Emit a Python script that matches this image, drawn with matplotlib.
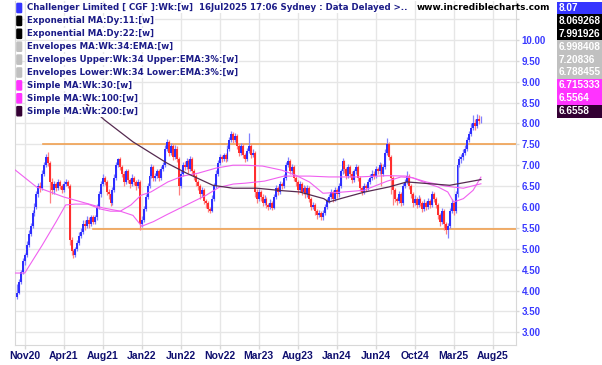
import numpy as np
import matplotlib
matplotlib.use("Agg")
import matplotlib.pyplot as plt
from matplotlib.patches import Rectangle, FancyBboxPatch

# weekly closes / highs / lows, Oct 2020 -> Jul 2025
closes = [
    3.95, 4.2, 4.45, 4.7, 4.85, 5.1, 5.35, 5.55, 5.85, 6.0, 6.3, 6.5, 6.45, 6.8, 7.0, 7.2, 7.05, 6.6, 6.4, 6.55,
    6.45, 6.6, 6.5, 6.4, 6.55, 6.6, 6.5, 5.2, 4.95, 4.85, 5.0, 5.15, 5.3, 5.4, 5.6, 5.55, 5.7, 5.6, 5.75, 5.65,
    5.75, 6.0, 6.3, 6.55, 6.7, 6.6, 6.35, 6.3, 6.1, 6.4, 6.7, 7.0, 7.15, 6.95, 6.8, 6.6, 6.85, 6.65, 6.55, 6.7,
    6.6, 6.5, 6.6, 5.6, 5.7, 5.95, 6.25, 6.5, 6.75, 6.95, 6.7, 6.75, 6.85, 6.7, 6.9, 7.0, 7.4, 7.55, 7.3, 7.45,
    7.2, 7.4, 7.15, 6.5, 6.8, 7.0, 6.95, 7.1, 6.9, 7.15, 6.85, 6.75, 6.6, 6.5, 6.3, 6.4, 6.15, 6.1, 5.95, 5.9,
    6.2, 6.5, 6.8, 7.05, 7.2, 7.15, 7.25, 7.15, 7.4, 7.6, 7.75, 7.6, 7.7, 7.45, 7.3, 7.45, 7.25, 7.15, 7.35, 7.45,
    7.25, 7.3, 6.35, 6.2, 6.35, 6.25, 6.1, 6.2, 6.05, 6.0, 6.1, 5.98, 6.25, 6.45, 6.35, 6.55, 6.5, 6.7, 7.0, 7.1,
    6.85, 6.95, 6.7, 6.6, 6.4, 6.55, 6.35, 6.45, 6.3, 6.45, 6.2, 6.0, 6.05, 5.9, 5.8, 5.85, 5.75, 5.85, 6.0, 6.15,
    6.25, 6.35, 6.2, 6.4, 6.3, 6.5, 6.85, 7.1, 6.9, 6.75, 6.95, 6.8, 6.65, 6.85, 6.95, 6.7, 6.45, 6.35, 6.5, 6.45,
    6.6, 6.7, 6.8, 6.75, 6.9, 6.85, 7.0, 6.8, 6.95, 7.3, 7.5, 7.2, 6.7, 6.4, 6.2, 6.15, 6.3, 6.1, 6.5, 6.6,
    6.75, 6.5, 6.3, 6.1, 6.2, 6.05, 6.2, 6.1, 5.95, 6.1, 6.0, 6.15, 6.05, 6.3, 6.2, 6.05, 5.8, 5.65, 5.9, 5.6,
    5.45, 5.55, 5.9, 6.1, 5.9, 6.3, 7.0, 7.15, 7.2, 7.3, 7.4, 7.6, 7.75, 7.9, 8.0, 7.95, 8.1, 8.05, 8.07,
]
highs = [
    4.15, 4.28, 4.5, 4.78, 4.9, 5.18, 5.45, 5.62, 5.92, 6.1, 6.38, 6.58, 6.6, 6.88, 7.08, 7.28, 7.32, 7.1, 6.7, 6.62,
    6.6, 6.68, 6.65, 6.55, 6.62, 6.68, 6.65, 6.55, 5.28, 5.0, 5.05, 5.22, 5.4, 5.5, 5.68, 5.7, 5.78, 5.75, 5.82, 5.8,
    5.8, 6.08, 6.38, 6.62, 6.78, 6.75, 6.65, 6.42, 6.35, 6.48, 6.78, 7.08, 7.18, 7.2, 7.0, 6.85, 6.92, 6.9, 6.7, 6.78,
    6.75, 6.65, 6.68, 6.65, 5.78, 6.02, 6.32, 6.58, 6.82, 7.02, 7.0, 6.82, 6.92, 6.9, 6.98, 7.08, 7.48, 7.63, 7.6, 7.52,
    7.5, 7.48, 7.45, 7.2, 6.88, 7.08, 7.1, 7.18, 7.15, 7.22, 7.2, 6.9, 6.8, 6.65, 6.55, 6.48, 6.45, 6.2, 6.15, 6.0,
    6.28, 6.58, 6.88, 7.12, 7.28, 7.25, 7.3, 7.3, 7.48, 7.68, 7.83, 7.8, 7.78, 7.75, 7.5, 7.52, 7.5, 7.3, 7.42, 7.77,
    7.5, 7.38, 7.35, 6.42, 6.42, 6.4, 6.3, 6.28, 6.25, 6.1, 6.18, 6.15, 6.32, 6.52, 6.5, 6.62, 6.6, 6.78, 7.08, 7.2,
    7.15, 7.02, 7.0, 6.75, 6.65, 6.62, 6.6, 6.52, 6.5, 6.52, 6.5, 6.25, 6.12, 6.1, 5.95, 5.92, 5.9, 5.92, 6.08, 6.22,
    6.32, 6.42, 6.4, 6.48, 6.45, 6.58, 6.92, 7.18, 7.12, 6.95, 7.02, 7.0, 6.85, 6.92, 7.02, 7.0, 6.75, 6.5, 6.58, 6.55,
    6.68, 6.78, 6.88, 6.85, 6.98, 6.95, 7.08, 7.05, 7.02, 7.38, 7.65, 7.55, 7.25, 6.75, 6.45, 6.25, 6.38, 6.35, 6.58, 6.68,
    6.85, 6.8, 6.55, 6.35, 6.28, 6.25, 6.28, 6.25, 6.15, 6.18, 6.15, 6.22, 6.2, 6.38, 6.35, 6.25, 6.1, 5.85, 5.98, 5.95,
    5.65, 5.62, 5.98, 6.18, 6.15, 6.38, 7.08, 7.22, 7.28, 7.38, 7.48, 7.68, 7.82, 8.0, 8.2, 8.1, 8.22, 8.2, 8.18,
]
lows = [
    3.79, 3.92, 4.15, 4.4, 4.62, 4.8, 5.05, 5.3, 5.5, 5.78, 5.95, 6.25, 6.35, 6.4, 6.75, 6.95, 6.98, 6.1, 6.3, 6.32,
    6.38, 6.4, 6.42, 6.33, 6.35, 6.5, 6.45, 5.1, 4.85, 4.77, 4.8, 4.95, 5.1, 5.25, 5.35, 5.45, 5.5, 5.5, 5.55, 5.6,
    5.6, 5.7, 5.95, 6.25, 6.5, 6.52, 6.28, 6.2, 6.02, 6.05, 6.35, 6.65, 6.95, 6.88, 6.72, 6.5, 6.55, 6.58, 6.45, 6.5,
    6.52, 6.4, 6.45, 5.46, 5.52, 5.65, 5.9, 6.2, 6.45, 6.7, 6.62, 6.62, 6.7, 6.62, 6.65, 6.85, 6.95, 7.35, 7.22, 7.25,
    7.12, 7.15, 7.08, 6.28, 6.45, 6.75, 6.88, 6.9, 6.82, 6.85, 6.78, 6.65, 6.5, 6.4, 6.2, 6.25, 6.08, 5.98, 5.88, 5.85,
    5.88, 6.15, 6.45, 6.75, 7.0, 7.08, 7.1, 7.08, 7.1, 7.35, 7.55, 7.52, 7.55, 7.38, 7.22, 7.25, 7.18, 7.08, 7.1, 7.3,
    7.18, 7.2, 6.25, 6.1, 6.15, 6.15, 6.02, 6.05, 5.98, 5.93, 5.95, 5.93, 5.95, 6.2, 6.28, 6.3, 6.42, 6.45, 6.65, 6.95,
    6.78, 6.8, 6.62, 6.5, 6.32, 6.35, 6.28, 6.3, 6.22, 6.25, 6.12, 5.92, 5.95, 5.82, 5.72, 5.75, 5.7, 5.69, 5.8, 5.95,
    6.1, 6.2, 6.12, 6.15, 6.22, 6.25, 6.45, 6.8, 6.82, 6.68, 6.7, 6.72, 6.58, 6.6, 6.8, 6.62, 6.38, 6.28, 6.3, 6.38,
    6.4, 6.55, 6.65, 6.68, 6.7, 6.78, 6.8, 6.5, 6.75, 6.9, 7.25, 7.12, 6.3, 6.05, 6.12, 6.05, 6.1, 6.02, 6.05, 6.45,
    6.55, 6.42, 6.22, 6.0, 6.05, 5.98, 6.0, 6.02, 5.88, 5.9, 5.92, 5.95, 5.98, 6.0, 6.12, 5.98, 5.72, 5.55, 5.6, 5.45,
    5.35, 5.25, 5.5, 5.85, 5.82, 5.85, 6.25, 6.95, 7.05, 7.12, 7.25, 7.35, 7.55, 7.7, 7.85, 7.85, 7.9, 7.98, 8.0,
]
first_open = 3.85

# moving averages (week index, price)
sma30_w = [-1, 4, 13, 20, 25, 30, 36.4, 43, 48, 53, 58.5, 63.6, 68.7, 77.4, 85, 93, 102, 110.8, 117, 126, 136,
           143, 150, 157, 165, 178, 190, 197, 203, 210, 216, 221, 224, 229, 234, 238]
sma30_p = [4.42, 4.42, 5.09, 5.64, 6.05, 6.07, 6.07, 5.95, 5.9, 5.9, 6.05, 6.28, 6.36, 6.6, 6.74, 6.81, 6.93, 7.0,
           7.0, 6.98, 6.88, 6.76, 6.6, 6.33, 6.35, 6.4, 6.62, 6.72, 6.7, 6.57, 6.48, 6.36, 6.12, 6.2, 6.4, 6.715]
sma100_w = [-1, 10, 24, 37, 44, 53, 59.5, 64, 70, 77, 87, 97, 103.6, 111, 117, 127, 137, 150, 160, 175, 190,
            200, 210, 220, 229, 238]
sma100_p = [6.89, 6.48, 6.24, 6.07, 5.98, 5.9, 5.8, 5.54, 5.65, 5.82, 6.05, 6.28, 6.47, 6.55, 6.57, 6.62, 6.74,
            6.74, 6.72, 6.72, 6.75, 6.74, 6.6, 6.5, 6.45, 6.556]
sma200_w = [30, 45, 59.5, 77, 87, 100.5, 110.8, 123, 136.4, 145, 157.4, 160, 166.7, 178.5, 190.8, 200, 222, 238]
sma200_p = [8.7, 8.08, 7.56, 7.05, 6.81, 6.52, 6.45, 6.45, 6.39, 6.36, 6.2, 6.12, 6.21, 6.36, 6.48, 6.6, 6.52, 6.656]

# drawn support / resistance lines (start week, price)
hlines = [(13.3, 7.51), (39, 5.48)]

tick_weeks = [4, 24, 44, 64, 84, 104, 124, 144, 164, 184, 204, 224, 244]
tick_labels = ['Nov20', 'Apr21', 'Aug21', 'Jan22', 'Jun22', 'Nov22', 'Mar23',
               'Aug23', 'Jan24', 'Jun24', 'Oct24', 'Mar25', 'Aug25']
price_ticks = [3.0, 3.5, 4.0, 4.5, 5.0, 5.5, 6.0, 6.5, 7.0, 7.5, 8.0, 8.5, 9.0, 9.5, 10.0, 10.5]

legend_items = [
    ('Challenger Limited [ CGF ]:Wk:[w]  16Jul2025 17:06 Sydney : Data Delayed >..', '#3535ff'),
    ('Exponential MA:Dy:11:[w]', '#000000'),
    ('Exponential MA:Dy:22:[w]', '#000000'),
    ('Envelopes MA:Wk:34:EMA:[w]', '#c0c0c0'),
    ('Envelopes Upper:Wk:34 Upper:EMA:3%:[w]', '#c0c0c0'),
    ('Envelopes Lower:Wk:34 Lower:EMA:3%:[w]', '#c0c0c0'),
    ('Simple MA:Wk:30:[w]', '#ff33ff'),
    ('Simple MA:Wk:100:[w]', '#ff33ff'),
    ('Simple MA:Wk:200:[w]', '#330033'),
]
last_values = ['8.07', '8.069268', '7.991926', '6.998408', '7.20836', '6.788455', '6.715333', '6.5564', '6.6558']

W, H = 602, 365
fig = plt.figure(figsize=(W / 100, H / 100), dpi=100)
ax = fig.add_axes([15 / W, (H - 344.5) / H, (516 - 15) / W, (344.5 - 1) / H])
ax.set_xlim(-1, 256)
ax.set_ylim(2.71, 10.93)

c = np.array(closes)
o = np.array([first_open] + closes[:-1])
hi = np.array(highs)
lo = np.array(lows)
wk = np.arange(len(c))
up = c >= o

ax.vlines(wk[up], lo[up], hi[up], color='#8080ff', lw=0.9, zorder=3)
ax.vlines(wk[~up], lo[~up], hi[~up], color='#ff8080', lw=0.9, zorder=3)
body = np.maximum(np.abs(c - o), 0.02)
ax.bar(wk, body, bottom=np.minimum(o, c), width=1.0,
       color=np.where(up, '#2e2eff', '#ff2e2e'), zorder=4)

ax.plot(sma30_w, sma30_p, color='#f060f0', lw=0.8, zorder=5)
ax.plot(sma100_w, sma100_p, color='#f060f0', lw=0.8, zorder=5)
ax.plot(sma200_w, sma200_p, color='#552a50', lw=0.9, zorder=5)
for start, level in hlines:
    ax.plot([start, 256], [level, level], color='#f0a050', lw=1.2, zorder=2)

ax.set_yticks(price_ticks)
ax.set_yticklabels(['%.2f' % p if p <= 10 else '' for p in price_ticks])
ax.yaxis.tick_right()
ax.set_xticks(tick_weeks)
ax.set_xticklabels(tick_labels)
ax.grid(True, color='#e6e6e6', lw=1)
ax.set_axisbelow(True)
ax.tick_params(axis='y', colors='#d8d8d8', labelcolor='#3a3aff', length=2, width=1, labelsize=7, pad=2)
ax.tick_params(axis='x', colors='#d8d8d8', labelcolor='#101070', length=3, width=1, labelsize=7.5, pad=2)
for lab in ax.get_xticklabels() + ax.get_yticklabels():
    lab.set_fontweight('bold')
    lab.set_fontfamily('Liberation Sans')
for side in ['left', 'right', 'bottom']:
    ax.spines[side].set_color('#d8d8d8')
ax.spines['top'].set_visible(False)

# overlay in pixel coordinates for legend and value boxes
ov = fig.add_axes([0, 0, 1, 1], zorder=10)
ov.set_xlim(0, W)
ov.set_ylim(H, 0)
ov.axis('off')

row_h = 12.9
for i, (txt, col) in enumerate(legend_items):
    yc = 8 + i * row_h
    ov.add_patch(FancyBboxPatch((17.5, yc - 4), 3.5, 8, boxstyle='round,pad=0.6', color=col))
    ov.text(27, yc, txt, fontsize=6.2, fontweight='bold', color='#1c1c88', va='center', ha='left',
            bbox=dict(facecolor='white', edgecolor='none', pad=0.6))

ov.text(417, 8, 'www.incrediblecharts.com', fontsize=6.4, fontweight='bold', color='black', va='center', ha='left')

for i, val in enumerate(last_values):
    y0 = 1.5 + i * row_h
    col = legend_items[i][1]
    ov.add_patch(Rectangle((557, y0), 45, row_h, facecolor=col, edgecolor='none'))
    ov.text(558.5, y0 + row_h / 2, val, fontsize=7.2, fontweight='bold', color='white', va='center', ha='left',
            family='Liberation Sans')

fig.savefig('out.png', dpi=100)
